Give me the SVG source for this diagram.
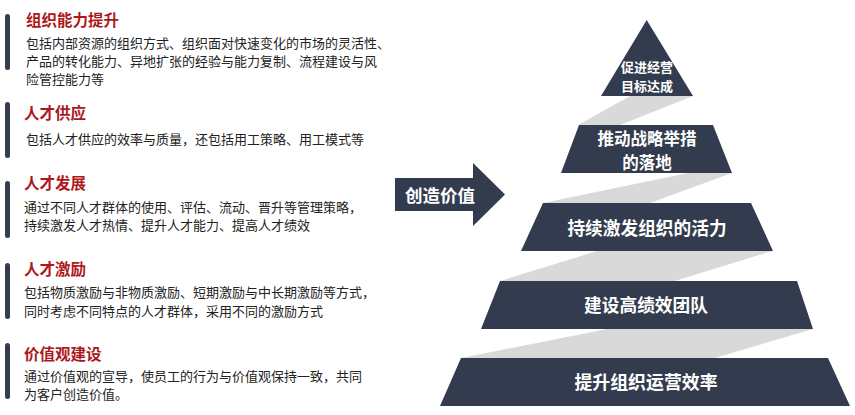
<svg xmlns="http://www.w3.org/2000/svg" width="855" height="415" viewBox="0 0 855 415">
<style>
.bar{fill:#363e4d}
.tier{fill:#323c4e}
.band{fill:#d9d9d9}
.title{font-family:"Microsoft YaHei","Noto Sans CJK SC",sans-serif;font-size:15.5px;font-weight:bold;fill:#ad1820}
.body{font-family:"Microsoft YaHei","Noto Sans CJK SC",sans-serif;font-size:13px;fill:#222}
.tl{font-family:"Microsoft YaHei","Noto Sans CJK SC",sans-serif;font-weight:bold;fill:#fff;text-anchor:middle}
</style>
<rect width="855" height="415" fill="#fff"/>
<g id="sec1">
<rect class="bar" x="5" y="14" width="5" height="56" rx="2.5"/>
<text class="title" x="26" y="25.7">组织能力提升</text>
<text class="body" x="26" y="47.6">包括内部资源的组织方式、组织面对快速变化的市场的灵活性、<tspan x="26" y="66">产品的转化能力、异地扩张的经验与能力复制、流程建设与风</tspan><tspan x="26" y="84.3">险管控能力等</tspan></text>
</g>
<g id="sec2">
<rect class="bar" x="5" y="102" width="5" height="56" rx="2.5"/>
<text class="title" x="24" y="118.7">人才供应</text>
<text class="body" x="26" y="144">包括人才供应的效率与质量，还包括用工策略、用工模式等</text>
</g>
<g id="sec3">
<rect class="bar" x="5" y="181" width="5" height="57" rx="2.5"/>
<text class="title" x="24" y="189.4">人才发展</text>
<text class="body" x="24" y="211.6">通过不同人才群体的使用、评估、流动、晋升等管理策略，<tspan x="24" y="230">持续激发人才热情、提升人才能力、提高人才绩效</tspan></text>
</g>
<g id="sec4">
<rect class="bar" x="5" y="263" width="5" height="56" rx="2.5"/>
<text class="title" x="24" y="275.2">人才激励</text>
<text class="body" x="24" y="296.6">包括物质激励与非物质激励、短期激励与中长期激励等方式，<tspan x="24" y="315.6">同时考虑不同特点的人才群体，采用不同的激励方式</tspan></text>
</g>
<g id="sec5">
<rect class="bar" x="5" y="343" width="5" height="56" rx="2.5"/>
<text class="title" x="24" y="359.7">价值观建设</text>
<text class="body" x="24" y="381">通过价值观的宣导，使员工的行为与价值观保持一致，共同<tspan x="24" y="399.3">为客户创造价值。</tspan></text>
</g>
<g id="connectors">
<polygon class="band" points="630,96 693,96 620,125 578,125"/>
<polygon class="band" points="688,173 732,173 650,203 543,203"/>
<polygon class="band" points="597,251 772,251 675,281 500,281"/>
<polygon class="band" points="607,329 813,329 715,358 461,358"/>
</g>
<g id="arrow">
<polygon class="tier" points="395,178 473,178 473,163 505,194.5 473,226 473,211 395,211"/>
<text class="tl" x="440" y="201.5" font-size="17.5">创造价值</text>
</g>
<g id="tier1">
<polygon class="tier" points="646.7,20 693,96 601,96"/>
<text class="tl" x="647" y="72.3" font-size="13">促进经营<tspan x="647" y="91.3">目标达成</tspan></text>
</g>
<g id="tier2">
<polygon class="tier" points="579,125 713,125 732,173 561,173"/>
<text class="tl" x="647" y="144.8" font-size="16.5">推动战略举措<tspan x="647" y="168.8">的落地</tspan></text>
</g>
<g id="tier3">
<polygon class="tier" points="543,203 751,203 773,251 521,251"/>
<text class="tl" x="647" y="234.5" font-size="17.7">持续激发组织的活力</text>
</g>
<g id="tier4">
<polygon class="tier" points="500,281 797,281 813,329 481,329"/>
<text class="tl" x="646" y="311.8" font-size="17.7">建设高绩效团队</text>
</g>
<g id="tier5">
<polygon class="tier" points="461,358 828,358 850,406 440,406"/>
<text class="tl" x="646" y="388.5" font-size="17.9">提升组织运营效率</text>
</g>
</svg>
